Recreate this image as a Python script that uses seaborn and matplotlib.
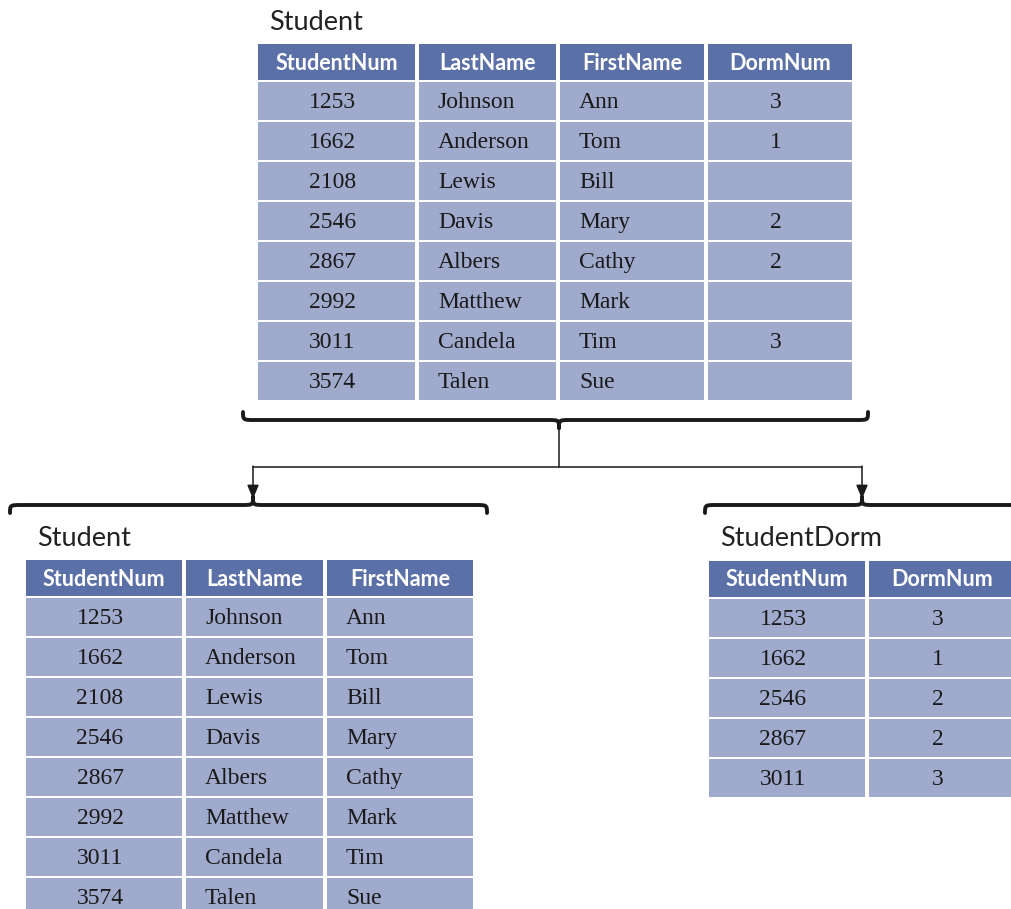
import matplotlib
matplotlib.use("Agg")
import matplotlib.pyplot as plt
import seaborn as sns
from matplotlib.patches import Rectangle, PathPatch
from matplotlib.path import Path

# data
student_num = ["1253", "1662", "2108", "2546", "2867", "2992", "3011", "3574"]
last_names = ["Johnson", "Anderson", "Lewis", "Davis", "Albers", "Matthew", "Candela", "Talen"]
first_names = ["Ann", "Tom", "Bill", "Mary", "Cathy", "Mark", "Tim", "Sue"]
dorm_nums = ["3", "1", "", "2", "2", "", "3", ""]

student_headers = ["StudentNum", "LastName", "FirstName", "DormNum"]
split_headers = ["StudentNum", "LastName", "FirstName"]
dorm_headers = ["StudentNum", "DormNum"]

dorm_students = [s for s, d in zip(student_num, dorm_nums) if d]
dorm_values = [d for d in dorm_nums if d]

sns.set_theme(style="white")
HEAD = "#5b70a7"
BODY = "#a0aacd"
SANS = "Lato"
SERIF = "Liberation Serif"

fig = plt.figure(figsize=(10.11, 9.09), dpi=100)
ax = fig.add_axes([0, 0, 1, 1])
ax.set_xlim(0, 1011)
ax.set_ylim(909, 0)
ax.axis("off")


def draw_table(x0, y0, widths, headers, columns, aligns, title):
    ax.text(x0 + 11, y0 - 22, title, fontsize=19.5, family=SANS, color="#222222",
            va="center", ha="left")
    xs = [x0]
    for w in widths[:-1]:
        xs.append(xs[-1] + w + 4)
    for j, (x, w, h) in enumerate(zip(xs, widths, headers)):
        ax.add_patch(Rectangle((x, y0), w, 36, color=HEAD, lw=0))
        ax.text(x + w / 2, y0 + 19, h, fontsize=15.5, family=SANS, weight="bold",
                color="white", ha="center", va="center")
        for i, val in enumerate(columns[j]):
            ty = y0 + 38 + 40 * i
            ax.add_patch(Rectangle((x, ty), w, 38, color=BODY, lw=0))
            if aligns[j] == "center":
                tx, ha = x + w / 2 - 4, "center"
            else:
                tx, ha = x + 19, "left"
            ax.text(tx, ty + 20.5, val, fontsize=17, family=SERIF, color="#1a1a1a",
                    ha=ha, va="center")


def brace(x0, x1, y, tip_x, d, r=12):
    # d = +1 tip points down, -1 tip points up; ends curl the other way
    e = y - d * 8
    t = y + d * 8
    verts = [(x0, e), (x0, y), (x0, y), (x0 + r, y),
             (tip_x - r, y),
             (tip_x, y), (tip_x, y), (tip_x, t),
             (tip_x, y), (tip_x, y), (tip_x + r, y),
             (x1 - r, y),
             (x1, y), (x1, y), (x1, e)]
    codes = [Path.MOVETO, Path.CURVE4, Path.CURVE4, Path.CURVE4,
             Path.LINETO,
             Path.CURVE4, Path.CURVE4, Path.CURVE4,
             Path.CURVE4, Path.CURVE4, Path.CURVE4,
             Path.LINETO,
             Path.CURVE4, Path.CURVE4, Path.CURVE4]
    ax.add_patch(PathPatch(Path(verts, codes), fill=False, lw=2.8,
                           color="#1a1a1a", capstyle="round", joinstyle="round"))


draw_table(258, 44, [157, 137, 144, 144], student_headers,
           [student_num, last_names, first_names, dorm_nums],
           ["center", "left", "left", "center"], "Student")
draw_table(26, 560, [156, 137, 146], split_headers,
           [student_num, last_names, first_names],
           ["center", "left", "left"], "Student")
draw_table(709, 561, [156, 146], dorm_headers,
           [dorm_students, dorm_values],
           ["center", "center"], "StudentDorm")

# braces and connectors
brace(243, 868, 420, 559, 1)
brace(10, 487, 505, 253, -1)
brace(705, 1030, 505, 862, -1)
ax.plot([559, 559], [428, 467], color="#1a1a1a", lw=1.1)
ax.plot([253, 862], [467, 467], color="#1a1a1a", lw=1.1)
for x in (253, 862):
    ax.annotate("", xy=(x, 499), xytext=(x, 466),
                arrowprops=dict(arrowstyle="-|>,head_length=0.6,head_width=0.25",
                                color="#1a1a1a", lw=1.1,
                                mutation_scale=14, shrinkA=0, shrinkB=0))

fig.savefig("out.png", dpi=100, facecolor="white")
